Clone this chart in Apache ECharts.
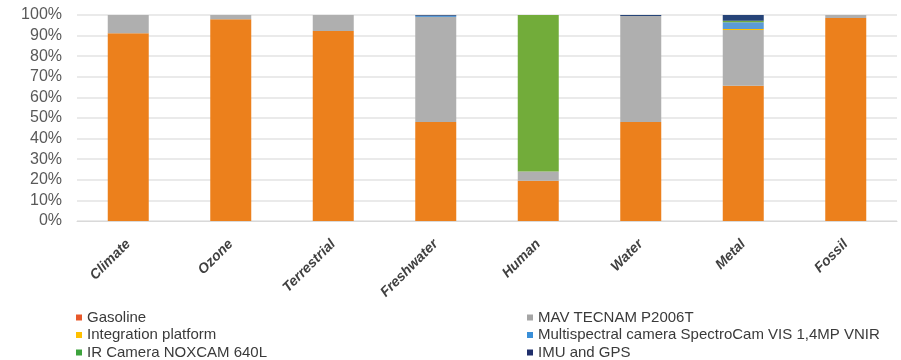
<!DOCTYPE html>
<html><head><meta charset="utf-8">
<script src="https://cdn.jsdelivr.net/npm/echarts@6/dist/echarts.min.js"></script>
<style>html,body{margin:0;padding:0;background:#fff;}#c{width:901px;height:360px;}</style>
</head><body><div id="c"></div>
<script>
var categories = ['Climate','Ozone','Terrestrial','Freshwater','Human','Water','Metal','Fossil'];
var seriesNames = ['Gasoline','MAV TECNAM P2006T','Integration platform','Multispectral camera SpectroCam VIS 1,4MP VNIR','IR Camera NOXCAM 640L','IMU and GPS'];
var gasoline     = [91.2, 97.9, 92.2, 48.0, 19.5, 48.0, 65.7, 98.5];
var mav          = [8.8,  2.1,  7.8,  51.0, 4.5,  51.5, 27.0, 1.5];
var integration  = [0,    0,    0,    0,    0,    0,    0.5,  0];
var multispectral= [0,    0,    0,    0.6,  0,    0,    3.3,  0];
var irCamera     = [0,    0,    0,    0,    76.0, 0,    0.7,  0];
var imuGps       = [0,    0,    0,    0.4,  0,    0.5,  2.8,  0];
var yTicks = [0,10,20,30,40,50,60,70,80,90,100];
var colors = ['#EC801C','#AFAFAF','#FFC000','#5B9BD5','#72AC3A','#264478'];
var legendColors = ['#E8582A','#A5A5A5','#FFC000','#3A8FD8','#3DA33D','#1F2F6B'];

var data = [gasoline, mav, integration, multispectral, irCamera, imuGps];
var chart = echarts.init(document.getElementById('c'), null, {renderer:'canvas'});
var series = seriesNames.map(function(n,i){
  return {name:n, type:'bar', stack:'s', data:data[i], barWidth:'40%',
    itemStyle:{color:colors[i]}, emphasis:{disabled:true}};
});
function legItem(i){ return {name:seriesNames[i], itemStyle:{color:legendColors[i]}}; }
var legendText = {fontFamily:'Liberation Sans', fontSize:15, color:'#3A3A3A', lineHeight:17};
chart.setOption({
  animation:false,
  color: colors,
  grid:{left:77, right:4, top:15, bottom:139},
  xAxis:{type:'category', data:categories,
    axisLine:{lineStyle:{color:'#D9D9D9', width:1}}, axisTick:{show:false},
    axisLabel:{rotate:45, interval:0, margin:21, color:'#404040', fontFamily:'Liberation Sans', fontWeight:'bold', fontStyle:'italic', fontSize:14}},
  yAxis:{type:'value', min:0, max:100, interval:10,
    axisLine:{show:false}, axisTick:{show:false},
    splitLine:{lineStyle:{color:'#E3E3E3', width:1.5}},
    axisLabel:{margin:15, color:'#595959', fontFamily:'Liberation Sans', fontSize:16,
      formatter:function(v){return yTicks.indexOf(v)>=0 ? v+'%' : '';}}},
  legend:[
    {orient:'vertical', left:76, top:309, height:80, width:400, itemWidth:6, itemHeight:6, itemGap:0.5, icon:'rect', textStyle:legendText, padding:0,
     data:[legItem(0), legItem(2), legItem(4)]},
    {orient:'vertical', left:527, top:309, height:80, width:370, itemWidth:6, itemHeight:6, itemGap:0.5, icon:'rect', textStyle:legendText, padding:0,
     data:[legItem(1), legItem(3), legItem(5)]}
  ],
  series: series
});
</script></body></html>
